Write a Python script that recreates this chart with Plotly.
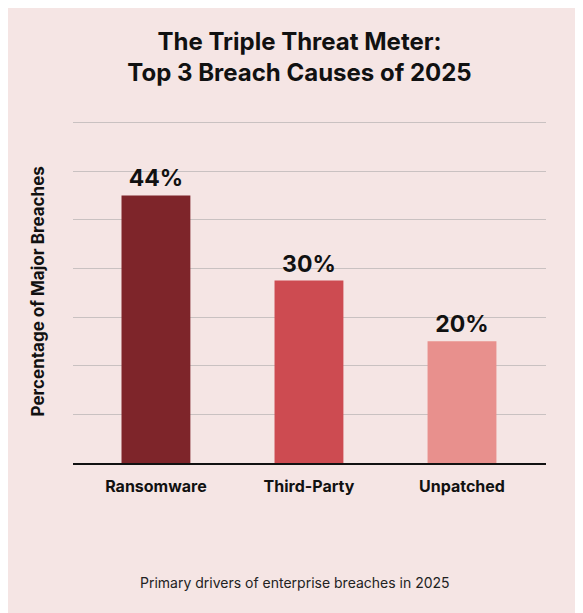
import plotly.graph_objects as go

# data
causes = ["Ransomware", "Third-Party", "Unpatched"]
shares = [44, 30, 20]
bar_colors = ["#7E252A", "#CD4B51", "#E8908D"]

bg = "#F5E5E4"
font_family = "Inter, 'Open Sans', sans-serif"

fig = go.Figure()

fig.add_trace(go.Bar(
    x=causes,
    y=shares,
    marker=dict(color=bar_colors, line=dict(width=0)),
    text=[f"{v}%" for v in shares],
    textposition="outside",
    cliponaxis=False,
    textfont=dict(family=font_family, size=23, color="#111111", weight="bold"),
    hoverinfo="skip",
))

fig.update_layout(
    width=583,
    height=613,
    paper_bgcolor=bg,
    plot_bgcolor=bg,
    margin=dict(l=65, r=45, t=112, b=158),
    bargap=0.55,
    showlegend=False,
    title=dict(
        text="The Triple Threat Meter:<br>Top 3 Breach Causes of 2025",
        x=0.5,
        xanchor="center",
        y=1 - 42 / 613,
        yanchor="middle",
        font=dict(family=font_family, size=24, color="#111111", weight="bold"),
    ),
    xaxis=dict(
        range=[-0.542, 2.549],
        showgrid=False,
        showline=True,
        linecolor="#111111",
        linewidth=2,
        ticks="",
        ticklabelstandoff=8,
        tickfont=dict(family=font_family, size=16, color="#111111", weight="bold"),
    ),
    yaxis=dict(
        range=[0, 56.4],
        dtick=8,
        showgrid=True,
        gridcolor="#C9C1C1",
        gridwidth=1,
        zeroline=False,
        showticklabels=False,
        ticks="",
    ),
    annotations=[
        dict(
            text="Percentage of Major Breaches",
            xref="paper", yref="paper",
            x=-0.074, y=0.5,
            xanchor="center", yanchor="middle",
            textangle=-90,
            showarrow=False,
            font=dict(family=font_family, size=17, color="#111111", weight="bold"),
        ),
        dict(
            text="Primary drivers of enterprise breaches in 2025",
            xref="paper", yref="paper",
            x=0.47, y=-0.347,
            yanchor="middle",
            showarrow=False,
            font=dict(family=font_family, size=14, color="#222222"),
        ),
    ],
)

fig.write_html("out.html")
